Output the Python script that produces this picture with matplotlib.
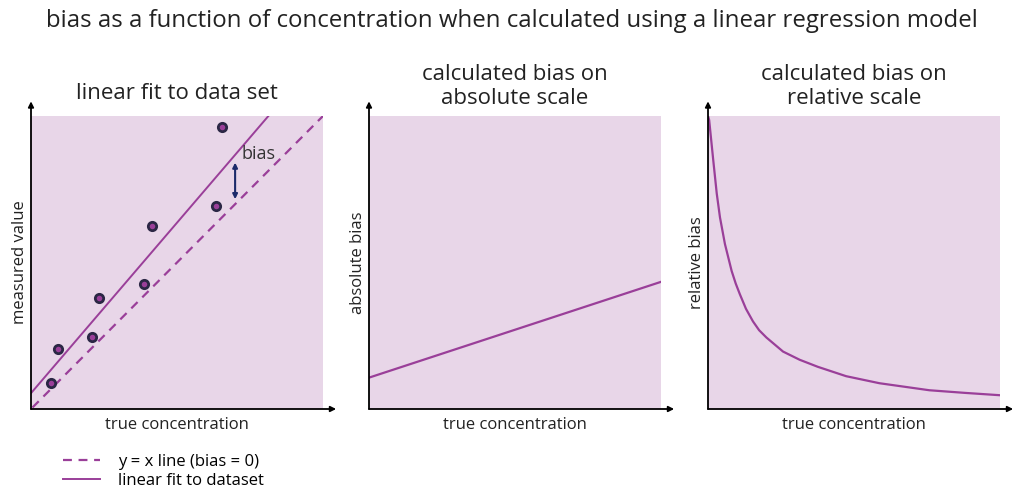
import numpy as np
import matplotlib
matplotlib.use('Agg')
import matplotlib.pyplot as plt
from matplotlib.lines import Line2D

plt.rcParams['font.family'] = ['Open Sans', 'DejaVu Sans']

# panel 1: data points and lines (0..10 scale)
pts_x = [0.67, 0.92, 2.09, 2.32, 3.87, 4.13, 6.34, 6.54]
pts_y = [0.88, 2.05, 2.46, 3.78, 4.26, 6.26, 6.94, 9.62]
ident_x = [0.05, 10.0]
ident_y = [0.05, 10.0]
fit_x = [0.0, 8.13]
fit_y = [0.54, 10.0]
bias_x = 6.99
bias_lo, bias_hi = 7.16, 8.41

# panel 2: absolute bias
abs_x = [0.0, 10.0]
abs_y = [1.07, 4.34]

# panel 3: relative bias
rel_x = [0.0, 0.04, 0.18, 0.30, 0.41, 0.58, 0.81, 0.95, 1.09, 1.3, 1.54, 1.75, 2.0, 2.57,
         3.14, 3.76, 4.73, 5.87, 7.58, 8.8, 10.0]
rel_y = [10.0, 9.86, 8.49, 7.35, 6.54, 5.63, 4.71, 4.28, 3.92, 3.42, 2.99, 2.69, 2.44, 1.96,
         1.68, 1.44, 1.12, 0.88, 0.64, 0.55, 0.47]

titles = ['linear fit to data set', 'calculated bias on\nabsolute scale',
          'calculated bias on\nrelative scale']
title_pads = [12, 9, 9]
ylabels = ['measured value', 'absolute bias', 'relative bias']

bg = '#e8d6e8'
purple = '#9a3f99'
navy = '#1c2a6a'

fig = plt.figure(figsize=(10.24, 4.96), dpi=100)
fig.text(0.5, 0.957, 'bias as a function of concentration when calculated using a linear regression model',
         ha='center', va='center', fontsize=17.3, color='#222222')

lefts = [31 / 1024, 369 / 1024, 708 / 1024]
axes = []
for i, l in enumerate(lefts):
    ax = fig.add_axes([l, 87 / 496, 292 / 1024, 293 / 496])
    ax.set_facecolor(bg)
    ax.set_xlim(0, 10)
    ax.set_ylim(0, 10)
    ax.set_xticks([])
    ax.set_yticks([])
    for s in ax.spines.values():
        s.set_visible(False)
    ax.annotate('', xy=(1.045, 0), xytext=(0, 0), xycoords='axes fraction',
                arrowprops=dict(arrowstyle='-|>', color='black', lw=1.3,
                                mutation_scale=8, shrinkA=0, shrinkB=0),
                annotation_clip=False)
    ax.annotate('', xy=(0, 1.05), xytext=(0, 0), xycoords='axes fraction',
                arrowprops=dict(arrowstyle='-|>', color='black', lw=1.3,
                                mutation_scale=8, shrinkA=0, shrinkB=0),
                annotation_clip=False)
    ax.set_xlabel('true concentration', fontsize=12, color='#222222', labelpad=6)
    ax.set_ylabel(ylabels[i], fontsize=12, color='#222222', labelpad=2)
    ax.set_title(titles[i], fontsize=16, color='#222222', pad=title_pads[i], linespacing=1.15)
    axes.append(ax)

ax1, ax2, ax3 = axes
ax1.plot(ident_x, ident_y, color=purple, lw=1.6, ls=(0, (4, 3)))
ax1.plot(fit_x, fit_y, color=purple, lw=1.4)
ax1.plot(pts_x, pts_y, 'o', ms=6, mfc='#9a3f99', mec='#2b2745', mew=2, ls='none')
ax1.annotate('', xy=(bias_x, bias_hi), xytext=(bias_x, bias_lo),
             arrowprops=dict(arrowstyle='<|-|>', color=navy, lw=1.5,
                             mutation_scale=7, shrinkA=0, shrinkB=0))
ax1.text(7.2, 8.7, 'bias', fontsize=13, color='#333333', va='center')

ax2.plot(abs_x, abs_y, color=purple, lw=1.6)
ax3.plot(rel_x, rel_y, color=purple, lw=1.6)

handles = [Line2D([], [], color=purple, lw=1.6, ls=(0, (4, 3))),
           Line2D([], [], color=purple, lw=1.4)]
fig.legend(handles, ['y = x line (bias = 0)', 'linear fit to dataset'],
           loc='center left', bbox_to_anchor=(0.047, 0.05), frameon=False,
           fontsize=12, handlelength=2.2, handletextpad=1.1, labelspacing=0.2)

fig.savefig('out.png', dpi=100)
